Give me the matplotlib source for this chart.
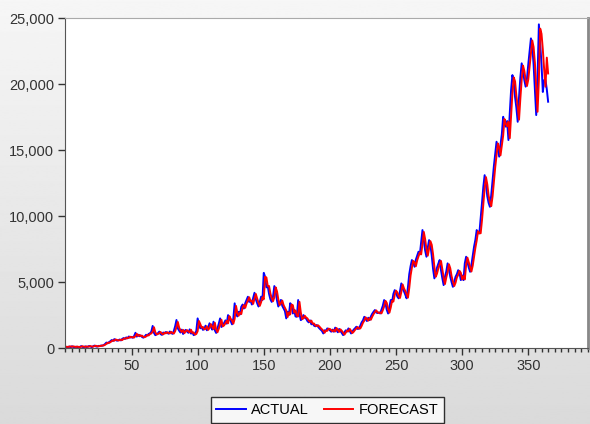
import numpy as np
import matplotlib.pyplot as plt
from matplotlib.ticker import FuncFormatter, MultipleLocator

plt.rcParams["font.family"] = ["Liberation Sans", "DejaVu Sans"]

# actual values, obs 1..365
actual = [
    30, 80, 120, 60, 140, 90, 50, 110, 70, 40,
    100, 150, 90, 60, 130, 80, 110, 160, 120, 70,
    140, 190, 130, 110, 170, 150, 200, 180, 230, 310,
    420, 360, 450, 520, 610, 540, 680, 620, 560, 590,
    650, 580, 700, 760, 690, 810, 740, 880, 800, 850,
    780, 920, 1160, 870, 1020, 900, 960, 840, 790, 880,
    1010, 950, 1080, 1120, 1250, 1680, 1150, 980, 1040, 1130,
    1250, 1060, 1000, 1180, 1110, 1220, 1150, 1090, 1260, 1140,
    1080, 1300, 1650, 2130, 1500, 1320, 1180, 1400, 1070, 1300,
    1380, 1250, 1160, 1420, 1100, 1200, 980, 1050, 1300, 2250,
    1800, 1500, 1620, 1380, 1450, 1700, 1350, 1550, 1880, 1600,
    1400, 2000, 1350, 1150, 1500, 1850, 2250, 1600, 1720, 1900,
    2100, 1850, 2500, 2200, 2050, 1800, 2250, 3390, 2600, 2400,
    2750, 2550, 3130, 3300, 3000, 3400, 3650, 3890, 3500, 3600,
    3300, 3800, 4190, 3700, 3400, 3150, 3500, 3900, 3640, 5700,
    5400, 4600, 4700, 4100, 3700, 3500, 3900, 4700, 4300, 3600,
    3150, 3400, 3650, 3200, 3000, 2800, 2250, 2750, 2500, 3400,
    3250, 2620, 2900, 2400, 2370, 3640, 2600, 2120, 2200, 2500,
    2300, 2240, 2050, 1950, 2100, 1800, 1870, 1700, 1650, 1750,
    1620, 1500, 1400, 1300, 1110, 1350, 1300, 1490, 1450, 1350,
    1240, 1400, 1240, 1550, 1350, 1200, 1450, 1300, 1150, 985,
    1200, 1350, 1250, 1490, 1300, 1110, 1250, 1400, 1500, 1620,
    1450, 1490, 1700, 1950, 2100, 2370, 2200, 2050, 2300, 2120,
    2400, 2600, 2750, 2880, 2700, 2650, 2700, 2620, 2900, 3200,
    3640, 3400, 2900, 2620, 3100, 3640, 3500, 4100, 4390, 4200,
    3900, 3770, 4300, 4900, 4500, 4300, 4050, 3770, 4600, 5600,
    6200, 6670, 6500, 6160, 6700, 7000, 7300, 7100, 8000, 8940,
    8200, 7400, 6920, 7600, 8180, 7800, 7000, 6000, 5280, 5700,
    6100, 6400, 6670, 5900, 5300, 4770, 5400, 5800, 6420, 6000,
    5400, 5000, 4640, 5000, 5400, 5600, 5900, 5700, 5150, 5500,
    5150, 6420, 6920, 6500, 6100, 5780, 6300, 7000, 7680, 8200,
    8940, 8700, 8690, 9800, 11000, 12200, 13100, 12400, 11500, 11000,
    10700, 11600, 12730, 13800, 14700, 15630, 15200, 14500, 15400, 16200,
    17520, 17000, 16770, 17200, 15760, 17800, 19550, 20680, 20200, 19000,
    18200, 17140, 19000, 20500, 21570, 21000, 20300, 19800, 20400, 21500,
    22500, 23460, 22800, 21500, 19500, 17650, 20500, 24520, 23000, 21500,
    19400, 20300, 20300, 19600, 18660,
]

# forecast values, obs 1..365
forecast = [
    100, 90, 110, 130, 100, 130, 110, 80, 120, 90,
    80, 110, 140, 110, 90, 130, 100, 120, 150, 120,
    110, 150, 180, 140, 130, 170, 160, 200, 200, 250,
    320, 410, 390, 450, 520, 590, 560, 650, 620, 580,
    600, 640, 610, 700, 740, 720, 790, 770, 860, 810,
    840, 800, 920, 1080, 920, 1000, 910, 940, 850, 830,
    880, 990, 960, 1070, 1110, 1250, 1580, 1200, 1030, 1070,
    1130, 1220, 1080, 1040, 1170, 1120, 1200, 1150, 1110, 1230,
    1150, 1100, 1280, 1600, 1980, 1560, 1360, 1220, 1380, 1130,
    1280, 1360, 1260, 1190, 1390, 1150, 1190, 1020, 1070, 1280,
    2050, 1820, 1550, 1600, 1420, 1460, 1650, 1380, 1530, 1820,
    1620, 1440, 1920, 1400, 1200, 1470, 1790, 2150, 1650, 1720,
    1880, 2060, 1880, 2420, 2220, 2080, 1850, 2220, 3200, 2680,
    2450, 2700, 2580, 3080, 3260, 3050, 3380, 3620, 3850, 3550,
    3600, 3350, 3750, 4100, 3750, 3450, 3200, 3480, 3850, 3700,
    5400, 5350, 4700, 4700, 4150, 3780, 3550, 3850, 4600, 4300,
    3700, 3250, 3400, 3600, 3250, 3050, 2850, 2350, 2700, 2550,
    3300, 3250, 2700, 2850, 2450, 2400, 3500, 2700, 2200, 2250,
    2450, 2320, 2250, 2080, 1980, 2080, 1850, 1860, 1720, 1670,
    1730, 1640, 1520, 1420, 1320, 1160, 1330, 1310, 1470, 1450,
    1370, 1270, 1380, 1260, 1520, 1370, 1230, 1420, 1310, 1170,
    1020, 1180, 1330, 1260, 1460, 1310, 1140, 1240, 1380, 1480,
    1600, 1470, 1490, 1680, 1920, 2080, 2330, 2220, 2080, 2270,
    2150, 2380, 2570, 2730, 2860, 2720, 2660, 2700, 2630, 2870,
    3150, 3580, 3420, 2980, 2680, 3070, 3580, 3520, 4030, 4350,
    4220, 3950, 3800, 4250, 4820, 4520, 4320, 4080, 3820, 4550,
    5500, 6100, 6600, 6500, 6200, 6650, 6950, 7250, 7100, 7900,
    8800, 8250, 7500, 7000, 7550, 8100, 7820, 7100, 6150, 5400,
    5650, 6050, 6350, 6600, 5950, 5350, 4850, 5350, 5750, 6350,
    6050, 5450, 5050, 4700, 4950, 5350, 5550, 5850, 5700, 5200,
    5450, 5200, 6300, 6850, 6500, 6150, 5800, 6250, 6950, 7600,
    8150, 8850, 8700, 8700, 9700, 10900, 12100, 12950, 12400, 11550,
    11050, 10750, 11500, 12600, 13700, 14600, 15500, 15200, 14600, 15350,
    16100, 17350, 17000, 16800, 17150, 15900, 17600, 19300, 20500, 20200,
    19100, 18300, 17300, 18900, 20300, 21400, 21000, 20300, 19850, 20350,
    21350, 22350, 23300, 22800, 21600, 19700, 17900, 20300, 24200, 23800,
    22600, 21100, 19800, 22000, 20800,
]

obs = np.arange(1, len(actual) + 1)

fig = plt.figure(figsize=(5.9, 4.24), dpi=100)

# grey gradient background behind everything
bg = fig.add_axes([0, 0, 1, 1], zorder=-10)
grad = np.linspace(0.965, 0.855, 256).reshape(-1, 1)
bg.imshow(grad, aspect="auto", cmap="gray", vmin=0, vmax=1,
          extent=[0, 1, 0, 1])
bg.set_axis_off()

ax = fig.add_axes([0.1108, 0.179, 0.8866, 0.7785])
ax.set_facecolor("white")

ax.plot(obs, actual, color="#0000ff", lw=1.4, label="ACTUAL")
ax.plot(obs, forecast, color="#ff0000", lw=1.4, label="FORECAST")

ax.set_xlim(0, 395.5)
ax.set_ylim(0, 25000)
ax.xaxis.set_minor_locator(MultipleLocator(5))
ax.yaxis.set_major_locator(MultipleLocator(5000))
ax.yaxis.set_major_formatter(FuncFormatter(lambda v, p: f"{int(v):,}"))
ax.set_xticks([50, 100, 150, 200, 250, 300, 350])

ax.tick_params(axis="both", which="major", direction="out", length=5,
               width=1, colors="#333333", labelsize=10.5, pad=3)
ax.tick_params(axis="x", which="minor", direction="out", length=3,
               width=1, colors="#333333")

ax.spines["left"].set_color("#555555")
ax.spines["bottom"].set_color("#555555")
ax.spines["top"].set_color("#aaaaaa")
ax.spines["right"].set_color("#888888")
ax.spines["right"].set_linewidth(2)

leg = fig.legend(loc="lower center", bbox_to_anchor=(0.555, 0.002), ncol=2,
                 frameon=True, fancybox=False, edgecolor="black",
                 fontsize=10.5, handlelength=2.0, handletextpad=0.4,
                 columnspacing=1.0, borderaxespad=0, borderpad=0.4)
leg.get_frame().set_linewidth(1)

plt.savefig("out.png", dpi=100)
